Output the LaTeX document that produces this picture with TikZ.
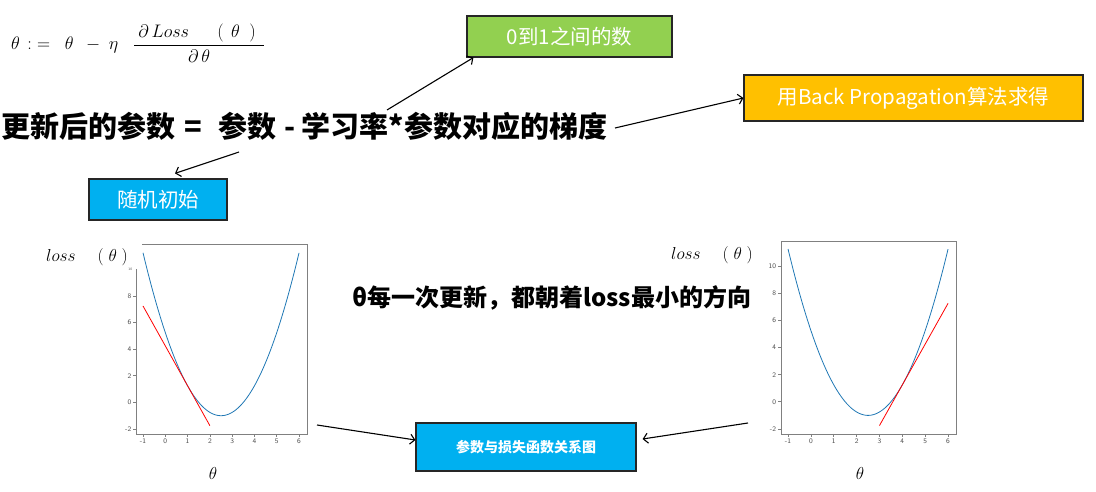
\documentclass[tikz,border=0pt]{standalone}
\usepackage{fontspec}
\newfontfamily\cjk{Noto Sans CJK SC}
\usetikzlibrary{positioning,arrows.meta}
\definecolor{boxgreen}{RGB}{146,208,80}
\definecolor{boxorange}{RGB}{255,192,0}
\definecolor{boxblue}{RGB}{0,176,240}
\definecolor{mplblue}{RGB}{31,119,180}
\begin{document}
\begin{tikzpicture}[x=1pt, y=-1pt,
    note/.style={draw=black!85, line width=1.2pt, text=white, inner sep=0pt,
        font=\cjk\fontsize{20.5}{24}\selectfont},
    pointer/.style={line width=1.1pt, -{Straight Barb[length=4.5pt,width=10pt]}},
    ticklab/.style={font=\sffamily\fontsize{7}{8}\selectfont, text=black!70, inner sep=1.5pt},
    axisline/.style={draw=black!50, line width=.7pt},
    curve/.style={mplblue, line width=.8pt},
    tangent/.style={red, line width=.8pt}]
\useasboundingbox (0,0) rectangle (1096,492);
% update rule
\node[anchor=west, font=\fontsize{17}{20}\selectfont, inner sep=0pt, scale=1.05] (rule) at (11,43)
    {$\displaystyle\theta\hspace{7pt}{:}\hspace{5pt}{=}\hspace{14pt}\theta\hspace{12pt}{-}\hspace{8pt}\eta\hspace{14pt}
      \frac{\hspace{4pt}\partial\,Loss\hspace{27pt}(\hspace{7pt}\theta\hspace{9pt})\hspace{8pt}}{\partial\,\theta}$};
\node[anchor=west, font=\cjk\bfseries\fontsize{29}{32}\selectfont, inner sep=0pt] (update) at (1,126)
    {更新后的参数\hspace{9pt}=\hspace{17pt}参数\hspace{8pt}-\hspace{6pt}学习率*参数对应的梯度};
\node[note, fill=boxgreen, minimum width=205pt, minimum height=41pt] (rate) at (569.5,36.5) {0到1之间的数};
\node[note, fill=boxorange, minimum width=339pt, minimum height=46pt] (backprop) at (913.5,98) {用Back Propagation算法求得};
\node[note, fill=boxblue, minimum width=138pt, minimum height=41pt] (init) at (158,199.5) {随机初始};
\coordinate (ratefoot) at (387,110);
\coordinate (gradfoot) at (615,128);
\coordinate (initfoot) at (239,152);
\draw[pointer] (ratefoot) -- ([xshift=7pt]rate.south west);
\draw[pointer] (gradfoot) -- (backprop.west);
\draw[pointer] (initfoot) -- ([shift={(17,-5)}]init.north);
% the two plots
\node (losslabl) at (87,257) {\fontsize{18}{20}\selectfont$loss\hspace{22pt}(\;\theta\;)$};
\node (losslabr) at (712,255) {\fontsize{18}{20}\selectfont$loss\hspace{22pt}(\;\theta\;)$};
\node (thetal) at (213,473) {\fontsize{18}{20}\selectfont$\theta$};
\node (thetar) at (860,473) {\fontsize{18}{20}\selectfont$\theta$};
\begin{scope}[shift={(165.3,402.4)}, x=22.29pt, y=13.3pt]
    \draw[axisline] (-1.045,11.91) -- (6.357,11.91) -- (6.357,-2.376) -- (-1.31,-2.376) -- (-1.31,10.03);
    \foreach \t in {-1,...,6}
        \draw[axisline] (\t,-2.376) -- ++(0pt,-3pt) node[ticklab, below] (lx\t) {\t};
    \foreach \t in {-2,0,...,8}
        \draw[axisline] (-1.31,\t) -- ++(-3pt,0pt) node[ticklab, left] (ly\t) {\t};
    \node[ticklab, left, scale=.5] (ly10) at (-1.45,10.03) {10};
    \draw[curve] plot[domain=-1:6, samples=80, smooth] (\x, {(\x-2.5)^2-1});
    \draw[tangent] (-1,7.25) -- (2,-1.75);
\end{scope}
\begin{scope}[shift={(810.9,401.8)}, x=22.86pt, y=13.58pt]
    \draw[axisline] (-1.31,-2.37) rectangle (6.35,11.84);
    \foreach \t in {-1,...,6}
        \draw[axisline] (\t,-2.37) -- ++(0pt,-3pt) node[ticklab, below] (rx\t) {\t};
    \foreach \t in {-2,0,...,10}
        \draw[axisline] (-1.31,\t) -- ++(-3pt,0pt) node[ticklab, left] (ry\t) {\t};
    \draw[curve] plot[domain=-1:6, samples=80, smooth] (\x, {(\x-2.5)^2-1});
    \draw[tangent] (3,-1.75) -- (6,7.25);
\end{scope}
\node[anchor=west, font=\cjk\bfseries\fontsize{24}{28}\selectfont, inner sep=0pt] (direction) at (352,298)
    {θ每一次更新，都朝着loss最小的方向};
\node[note, fill=boxblue, minimum width=220pt, minimum height=48pt, font=\cjk\bfseries\fontsize{14}{16}\selectfont] (relation) at (526,447) {参数与损失函数关系图};
\coordinate (plotlfoot) at (317,425);
\coordinate (plotrfoot) at (748,423);
\draw[pointer] (plotlfoot) -- ([yshift=7pt]relation.west);
\draw[pointer] (plotrfoot) -- ([shift={(6,-8)}]relation.east);
\end{tikzpicture}
\end{document}
